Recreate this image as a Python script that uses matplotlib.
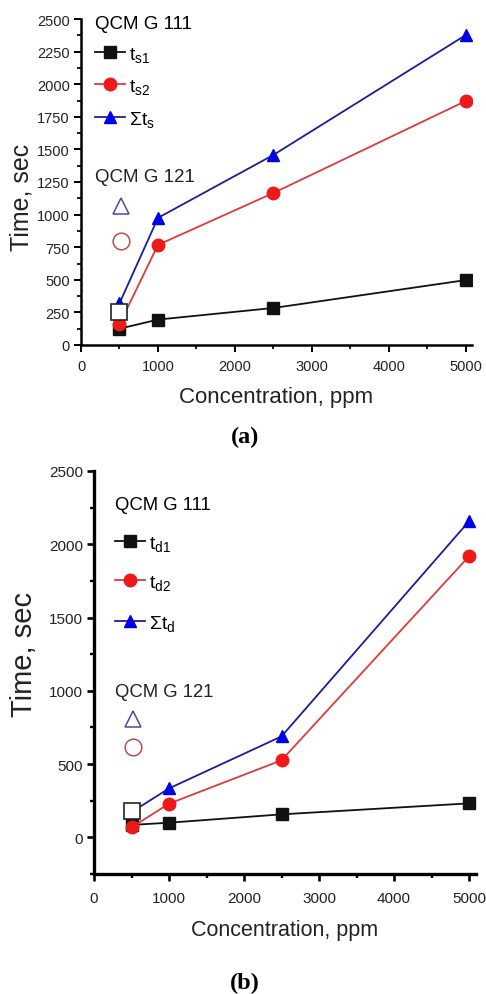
import matplotlib
matplotlib.use("Agg")
import matplotlib.pyplot as plt
from matplotlib import ticker

# ---- data ----
conc = [500, 1000, 2500, 5000]

# panel (a): sorption times, QCM G 111
ts1 = [125, 195, 284, 498]
ts2 = [160, 768, 1166, 1872]
ts_sum = [320, 975, 1458, 2378]
# QCM G 121, 500 ppm (open square)
g121_a_x = [500]
g121_a_y = [253]

# panel (b): desorption times, QCM G 111
td1 = [85, 100, 157, 232]
td2 = [68, 230, 526, 1918]
td_sum = [172, 334, 689, 2157]
g121_b_x = [500]
g121_b_y = [177]

# QCM G 121 legend symbols (open triangle, open circle)
sym_a_x = [519, 519]
sym_a_y = [1066, 798]
sym_b_x = [520, 520]
sym_b_y = [805, 614]

BLACK = '#111111'
RED_L = '#e03a3a'
RED_M = '#ee1a1a'
BLUE_L = '#1c1c9c'
BLUE_M = '#0000e6'
TXT = '#222222'

W, H = 486, 995
fig = plt.figure(figsize=(W / 100, H / 100), dpi=100)

FA = ['Liberation Sans', 'DejaVu Sans']


def px_axes(l, t, r, b):
    return [l / W, (H - b) / H, (r - l) / W, (b - t) / H]


def style_axes(ax, fs, spw, pad_x, pad_y):
    for s in ('top', 'right'):
        ax.spines[s].set_visible(False)
    for s in ('left', 'bottom'):
        ax.spines[s].set_linewidth(spw)
    ax.tick_params(which='major', direction='out', length=5, width=spw * 0.8)
    ax.tick_params(which='minor', direction='out', length=3, width=spw * 0.7)
    ax.tick_params(axis='x', pad=pad_x)
    ax.tick_params(axis='y', pad=pad_y)
    for lab in ax.get_xticklabels() + ax.get_yticklabels():
        lab.set_family(FA)
        lab.set_fontsize(fs)
        lab.set_color(TXT)


def draw_panel(ax, s1, s2, ssum, gx, gy, symx, symy, names):
    ax.plot(conc, s1, color=BLACK, lw=1.3, marker='s', ms=8, mfc=BLACK,
            mec=BLACK, label=names[0], zorder=3)
    ax.plot(conc, s2, color=RED_L, lw=1.3, marker='o', ms=9, mfc=RED_M,
            mec=RED_M, label=names[1], zorder=4)
    ax.plot(conc, ssum, color=BLUE_L, lw=1.3, marker='^', ms=9, mfc=BLUE_M,
            mec=BLUE_M, label=names[2], zorder=4)
    ax.plot(gx, gy, ls='none', marker='s', ms=12, mfc='white', mec=TXT,
            mew=1.2, zorder=5)
    ax.plot(symx[:1], symy[:1], ls='none', marker='^', ms=12, mfc='none',
            mec='#4a4aa8', mew=1.1)
    ax.plot(symx[1:], symy[1:], ls='none', marker='o', ms=12, mfc='none',
            mec='#b85050', mew=1.1)


# ---------------- panel (a) ----------------
axa = fig.add_axes(px_axes(81, 20, 472, 346))
names_a = [r'$\mathregular{t_{s1}}$', r'$\mathregular{t_{s2}}$',
           r'$\mathregular{\Sigma t_{s}}$']
draw_panel(axa, ts1, ts2, ts_sum, g121_a_x, g121_a_y, sym_a_x, sym_a_y,
           names_a)
axa.set_xlim(0, 5078)
axa.set_ylim(0, 2500)
axa.xaxis.set_major_locator(ticker.MultipleLocator(1000))
axa.xaxis.set_minor_locator(ticker.MultipleLocator(500))
axa.yaxis.set_major_locator(ticker.MultipleLocator(250))
axa.yaxis.set_minor_locator(ticker.MultipleLocator(125))
style_axes(axa, 10.5, 1.8, 5, 3)
axa.set_xlabel('Concentration, ppm', family=FA, fontsize=16, labelpad=9.5,
               color=TXT)
axa.set_ylabel('Time, sec', family=FA, fontsize=18, color=TXT)
axa.yaxis.set_label_coords(-(81 - 34) / 391, 1 - (197 - 20) / 326)
axa.legend(loc='upper left', bbox_to_anchor=(0.036, 1.012),
           frameon=False, borderaxespad=0, borderpad=0,
           title='QCM G 111', alignment='left', handlelength=1.55,
           handletextpad=0.2, labelspacing=0.67,
           prop={'family': FA, 'size': 14},
           title_fontproperties={'family': FA, 'size': 13.5})
axa.text(0.036, 1 - (178 - 20) / 326, 'QCM G 121', transform=axa.transAxes,
         family=FA, fontsize=13.5, va='center', ha='left', color=TXT)

fig.text(245 / W, 1 - 437 / H, '(a)', family=['Liberation Serif'],
         fontweight='bold', fontsize=17.5, ha='center', va='center')

# ---------------- panel (b) ----------------
axb = fig.add_axes(px_axes(94, 472, 476, 875))
names_b = [r'$\mathregular{t_{d1}}$', r'$\mathregular{t_{d2}}$',
           r'$\mathregular{\Sigma t_{d}}$']
draw_panel(axb, td1, td2, td_sum, g121_b_x, g121_b_y, sym_b_x, sym_b_y,
           names_b)
axb.set_xlim(0, 5093)
axb.set_ylim(-250, 2500)
axb.xaxis.set_major_locator(ticker.MultipleLocator(1000))
axb.xaxis.set_minor_locator(ticker.MultipleLocator(500))
axb.yaxis.set_major_locator(ticker.MultipleLocator(500))
axb.yaxis.set_minor_locator(ticker.MultipleLocator(250))
style_axes(axb, 11, 2.4, 7, 3)
axb.set_xlabel('Concentration, ppm', family=FA, fontsize=15.5, labelpad=10,
               color=TXT)
axb.set_ylabel('Time, sec', family=FA, fontsize=21, color=TXT)
axb.yaxis.set_label_coords(-(94 - 38) / 382, 1 - (654 - 472) / 403)
axb.legend(loc='upper left', bbox_to_anchor=(0.055, 0.937),
           frameon=False, borderaxespad=0, borderpad=0,
           title='QCM G 111', alignment='left', handlelength=1.55,
           handletextpad=0.2, labelspacing=1.05,
           prop={'family': FA, 'size': 14},
           title_fontproperties={'family': FA, 'size': 13.3})
axb.text(0.055, 1 - (693 - 472) / 403, 'QCM G 121', transform=axb.transAxes,
         family=FA, fontsize=13.3, va='center', ha='left', color=TXT)

fig.text(245 / W, 1 - 983 / H, '(b)', family=['Liberation Serif'],
         fontweight='bold', fontsize=17.5, ha='center', va='center')

fig.savefig('out.png', dpi=100)
